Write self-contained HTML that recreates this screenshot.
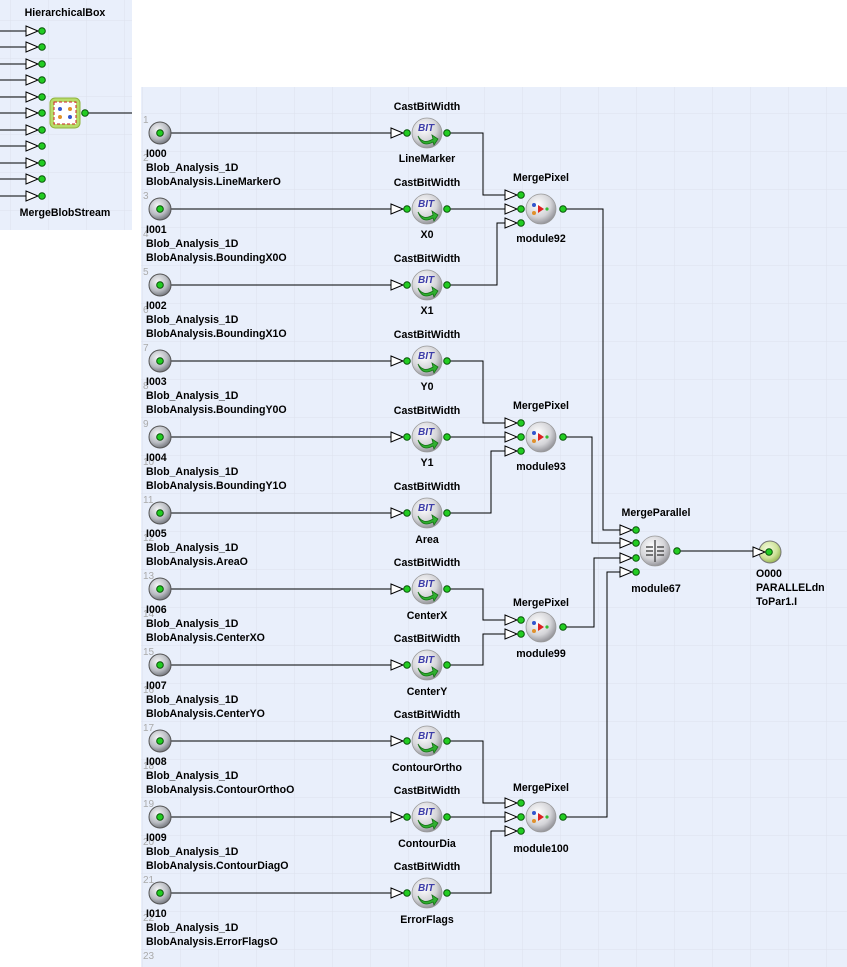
<!DOCTYPE html>
<html><head><meta charset="utf-8"><style>
html,body{margin:0;padding:0;background:#fff;}
svg{display:block;font-family:"Liberation Sans",sans-serif;font-weight:bold;font-size:10.6px;}
.l{fill:#000}
.n{fill:#aaa;font-weight:normal;font-size:10px}
.w{stroke:#000;stroke-width:1;fill:none}
</style></head><body>
<svg width="847" height="967" viewBox="0 0 847 967">
<defs>
<pattern id="g" width="38" height="38" patternUnits="userSpaceOnUse" x="142" y="113">
<path d="M0 0H38M0 0V38" stroke="#dde2ec" stroke-width="1" fill="none"/>
</pattern>
<pattern id="g2" width="38" height="38" patternUnits="userSpaceOnUse" x="10" y="20">
<path d="M0 0H38M0 0V38" stroke="#dde2ec" stroke-width="1" fill="none"/>
</pattern>
<radialGradient id="gs" cx="40%" cy="35%" r="70%"><stop offset="0" stop-color="#ffffff"/><stop offset="0.6" stop-color="#d4d4d8"/><stop offset="1" stop-color="#8a8a90"/></radialGradient>
<radialGradient id="gi" cx="40%" cy="35%" r="70%"><stop offset="0" stop-color="#f4f4f6"/><stop offset="0.6" stop-color="#b9bcc2"/><stop offset="1" stop-color="#6a6d74"/></radialGradient>
<radialGradient id="go" cx="40%" cy="35%" r="70%"><stop offset="0" stop-color="#f4fadc"/><stop offset="0.6" stop-color="#cfe39a"/><stop offset="1" stop-color="#8fae4a"/></radialGradient>
<g id="d"><circle r="3.3" fill="#22cc22" stroke="#075207" stroke-width="1"/></g>
<g id="p"><polygon points="-16,-5 -4,0 -16,5" fill="#fff" stroke="#000" stroke-width="1"/><use href="#d"/></g>
<g id="inn"><circle r="11" fill="url(#gi)" stroke="#555" stroke-width="1"/><use href="#d"/></g>
<g id="cast"><circle r="15" fill="url(#gs)" stroke="#999" stroke-width="0.8"/>
<text x="-9" y="-2" style="font-size:10px;fill:#3c3ca8;font-style:italic">BIT</text>
<path d="M-9,3 Q-4,12 6,6 L5,2 L11,6 L7,12 L6,9 Q-5,15 -9,3Z" fill="#2fb02f" stroke="#167016" stroke-width="0.8"/>
</g>
<g id="mp"><circle r="15" fill="url(#gs)" stroke="#999" stroke-width="0.8"/>
<circle cx="-7" cy="-4" r="2" fill="#3355cc"/><circle cx="-7" cy="4" r="2" fill="#e0902a"/>
<polygon points="-3,-4 3,0 -3,4" fill="#dd2222"/><circle cx="6" cy="0" r="1.6" fill="#33bb33"/>
</g>
</defs>
<rect x="0" y="0" width="132" height="230" fill="#e9effb"/>
<rect x="0" y="0" width="132" height="230" fill="url(#g2)"/>
<text class="l" x="65" y="16" text-anchor="middle">HierarchicalBox</text>
<text class="l" x="65" y="216" text-anchor="middle">MergeBlobStream</text>
<g>
<path class="w" d="M0 31H26M0 47H26M0 64H26M0 80H26M0 97H26M0 113H26M0 130H26M0 146H26M0 163H26M0 179H26M0 196H26M85 113H132"/>
<use href="#p" x="42" y="31"/><use href="#p" x="42" y="47"/><use href="#p" x="42" y="64"/><use href="#p" x="42" y="80"/><use href="#p" x="42" y="97"/><use href="#p" x="42" y="113"/><use href="#p" x="42" y="130"/><use href="#p" x="42" y="146"/><use href="#p" x="42" y="163"/><use href="#p" x="42" y="179"/><use href="#p" x="42" y="196"/>
<rect x="50" y="98" width="30" height="30" rx="5" fill="#b8dc6a" stroke="#8fb43e"/>
<rect x="54" y="102" width="22" height="22" fill="#fff" stroke="#cc2222" stroke-dasharray="3,2"/>
<circle cx="60" cy="109" r="2" fill="#3355cc"/><circle cx="70" cy="109" r="2" fill="#e0902a"/><circle cx="60" cy="117" r="2" fill="#e0902a"/><circle cx="70" cy="117" r="2" fill="#3355cc"/>
<use href="#d" x="85" y="113"/>
</g>
<rect x="141" y="87" width="706" height="880" fill="#e9effb"/>
<rect x="141" y="87" width="706" height="880" fill="url(#g)"/>
<g class="n">
<text x="143" y="123">1</text><text x="143" y="161">2</text><text x="143" y="199">3</text><text x="143" y="237">4</text><text x="143" y="275">5</text><text x="143" y="313">6</text><text x="143" y="351">7</text><text x="143" y="389">8</text><text x="143" y="427">9</text><text x="143" y="465">10</text><text x="143" y="503">11</text><text x="143" y="541">12</text><text x="143" y="579">13</text><text x="143" y="617">14</text><text x="143" y="655">15</text><text x="143" y="693">16</text><text x="143" y="731">17</text><text x="143" y="769">18</text><text x="143" y="807">19</text><text x="143" y="845">20</text><text x="143" y="883">21</text><text x="143" y="921">22</text><text x="143" y="959">23</text>
</g>
<path class="w" d="M160 133H392M160 209H392M160 285H392M160 361H392M160 437H392M160 513H392M160 589H392M160 665H392M160 741H392M160 817H392M160 893H392"/>
<path class="w" d="M447 133H483V195H506M447 209H506M447 285H497V223H506"/>
<path class="w" d="M447 361H483V423H506M447 437H506M447 513H491V451H506"/>
<path class="w" d="M447 589H483V620H506M447 665H483V634H506"/>
<path class="w" d="M447 741H483V803H506M447 817H506M447 893H491V831H506"/>
<path class="w" d="M563 209H603V530H621M563 437H592V543H621M563 627H594V558H621M563 817H607V572H621"/>
<path class="w" d="M677 551H753"/>
<use href="#inn" x="160" y="133"/><use href="#inn" x="160" y="209"/><use href="#inn" x="160" y="285"/><use href="#inn" x="160" y="361"/><use href="#inn" x="160" y="437"/><use href="#inn" x="160" y="513"/><use href="#inn" x="160" y="589"/><use href="#inn" x="160" y="665"/><use href="#inn" x="160" y="741"/><use href="#inn" x="160" y="817"/><use href="#inn" x="160" y="893"/>
<g class="l">
<text x="146" y="157">I000</text><text x="146" y="171">Blob_Analysis_1D</text><text x="146" y="185">BlobAnalysis.LineMarkerO</text>
<text x="146" y="233">I001</text><text x="146" y="247">Blob_Analysis_1D</text><text x="146" y="261">BlobAnalysis.BoundingX0O</text>
<text x="146" y="309">I002</text><text x="146" y="323">Blob_Analysis_1D</text><text x="146" y="337">BlobAnalysis.BoundingX1O</text>
<text x="146" y="385">I003</text><text x="146" y="399">Blob_Analysis_1D</text><text x="146" y="413">BlobAnalysis.BoundingY0O</text>
<text x="146" y="461">I004</text><text x="146" y="475">Blob_Analysis_1D</text><text x="146" y="489">BlobAnalysis.BoundingY1O</text>
<text x="146" y="537">I005</text><text x="146" y="551">Blob_Analysis_1D</text><text x="146" y="565">BlobAnalysis.AreaO</text>
<text x="146" y="613">I006</text><text x="146" y="627">Blob_Analysis_1D</text><text x="146" y="641">BlobAnalysis.CenterXO</text>
<text x="146" y="689">I007</text><text x="146" y="703">Blob_Analysis_1D</text><text x="146" y="717">BlobAnalysis.CenterYO</text>
<text x="146" y="765">I008</text><text x="146" y="779">Blob_Analysis_1D</text><text x="146" y="793">BlobAnalysis.ContourOrthoO</text>
<text x="146" y="841">I009</text><text x="146" y="855">Blob_Analysis_1D</text><text x="146" y="869">BlobAnalysis.ContourDiagO</text>
<text x="146" y="917">I010</text><text x="146" y="931">Blob_Analysis_1D</text><text x="146" y="945">BlobAnalysis.ErrorFlagsO</text>
</g>
<g>
<use href="#cast" x="427" y="133"/><use href="#p" x="407" y="133"/><use href="#d" x="447" y="133"/>
<use href="#cast" x="427" y="209"/><use href="#p" x="407" y="209"/><use href="#d" x="447" y="209"/>
<use href="#cast" x="427" y="285"/><use href="#p" x="407" y="285"/><use href="#d" x="447" y="285"/>
<use href="#cast" x="427" y="361"/><use href="#p" x="407" y="361"/><use href="#d" x="447" y="361"/>
<use href="#cast" x="427" y="437"/><use href="#p" x="407" y="437"/><use href="#d" x="447" y="437"/>
<use href="#cast" x="427" y="513"/><use href="#p" x="407" y="513"/><use href="#d" x="447" y="513"/>
<use href="#cast" x="427" y="589"/><use href="#p" x="407" y="589"/><use href="#d" x="447" y="589"/>
<use href="#cast" x="427" y="665"/><use href="#p" x="407" y="665"/><use href="#d" x="447" y="665"/>
<use href="#cast" x="427" y="741"/><use href="#p" x="407" y="741"/><use href="#d" x="447" y="741"/>
<use href="#cast" x="427" y="817"/><use href="#p" x="407" y="817"/><use href="#d" x="447" y="817"/>
<use href="#cast" x="427" y="893"/><use href="#p" x="407" y="893"/><use href="#d" x="447" y="893"/>
</g>
<g class="l" text-anchor="middle">
<text x="427" y="110">CastBitWidth</text><text x="427" y="162">LineMarker</text>
<text x="427" y="186">CastBitWidth</text><text x="427" y="238">X0</text>
<text x="427" y="262">CastBitWidth</text><text x="427" y="314">X1</text>
<text x="427" y="338">CastBitWidth</text><text x="427" y="390">Y0</text>
<text x="427" y="414">CastBitWidth</text><text x="427" y="466">Y1</text>
<text x="427" y="490">CastBitWidth</text><text x="427" y="543">Area</text>
<text x="427" y="566">CastBitWidth</text><text x="427" y="619">CenterX</text>
<text x="427" y="642">CastBitWidth</text><text x="427" y="695">CenterY</text>
<text x="427" y="718">CastBitWidth</text><text x="427" y="771">ContourOrtho</text>
<text x="427" y="794">CastBitWidth</text><text x="427" y="847">ContourDia</text>
<text x="427" y="870">CastBitWidth</text><text x="427" y="923">ErrorFlags</text>
</g>
<use href="#mp" x="541" y="209"/><use href="#p" x="521" y="195"/><use href="#p" x="521" y="209"/><use href="#p" x="521" y="223"/><use href="#d" x="563" y="209"/>
<use href="#mp" x="541" y="437"/><use href="#p" x="521" y="423"/><use href="#p" x="521" y="437"/><use href="#p" x="521" y="451"/><use href="#d" x="563" y="437"/>
<use href="#mp" x="541" y="627"/><use href="#p" x="521" y="620"/><use href="#p" x="521" y="634"/><use href="#d" x="563" y="627"/>
<use href="#mp" x="541" y="817"/><use href="#p" x="521" y="803"/><use href="#p" x="521" y="817"/><use href="#p" x="521" y="831"/><use href="#d" x="563" y="817"/>
<g class="l" text-anchor="middle">
<text x="541" y="181">MergePixel</text><text x="541" y="242">module92</text>
<text x="541" y="409">MergePixel</text><text x="541" y="470">module93</text>
<text x="541" y="606">MergePixel</text><text x="541" y="657">module99</text>
<text x="541" y="791">MergePixel</text><text x="541" y="852">module100</text>
</g>
<circle cx="655" cy="551" r="15" fill="url(#gs)" stroke="#999" stroke-width="0.8"/>
<path d="M646 547h7M646 551h7M646 555h7M657 547h7M657 551h7M657 555h7M655 540v22" stroke="#333" stroke-width="1.2"/>
<use href="#p" x="636" y="530"/><use href="#p" x="636" y="543"/><use href="#p" x="636" y="558"/><use href="#p" x="636" y="572"/><use href="#d" x="677" y="551"/>
<text class="l" x="656" y="516" text-anchor="middle">MergeParallel</text>
<text class="l" x="656" y="592" text-anchor="middle">module67</text>
<circle cx="770" cy="552" r="11" fill="url(#go)" stroke="#777" stroke-width="1"/>
<use href="#p" x="769" y="552"/>
<g class="l"><text x="756" y="577">O000</text><text x="756" y="591">PARALLELdn</text><text x="756" y="605">ToPar1.I</text></g>
</svg>
</body></html>
